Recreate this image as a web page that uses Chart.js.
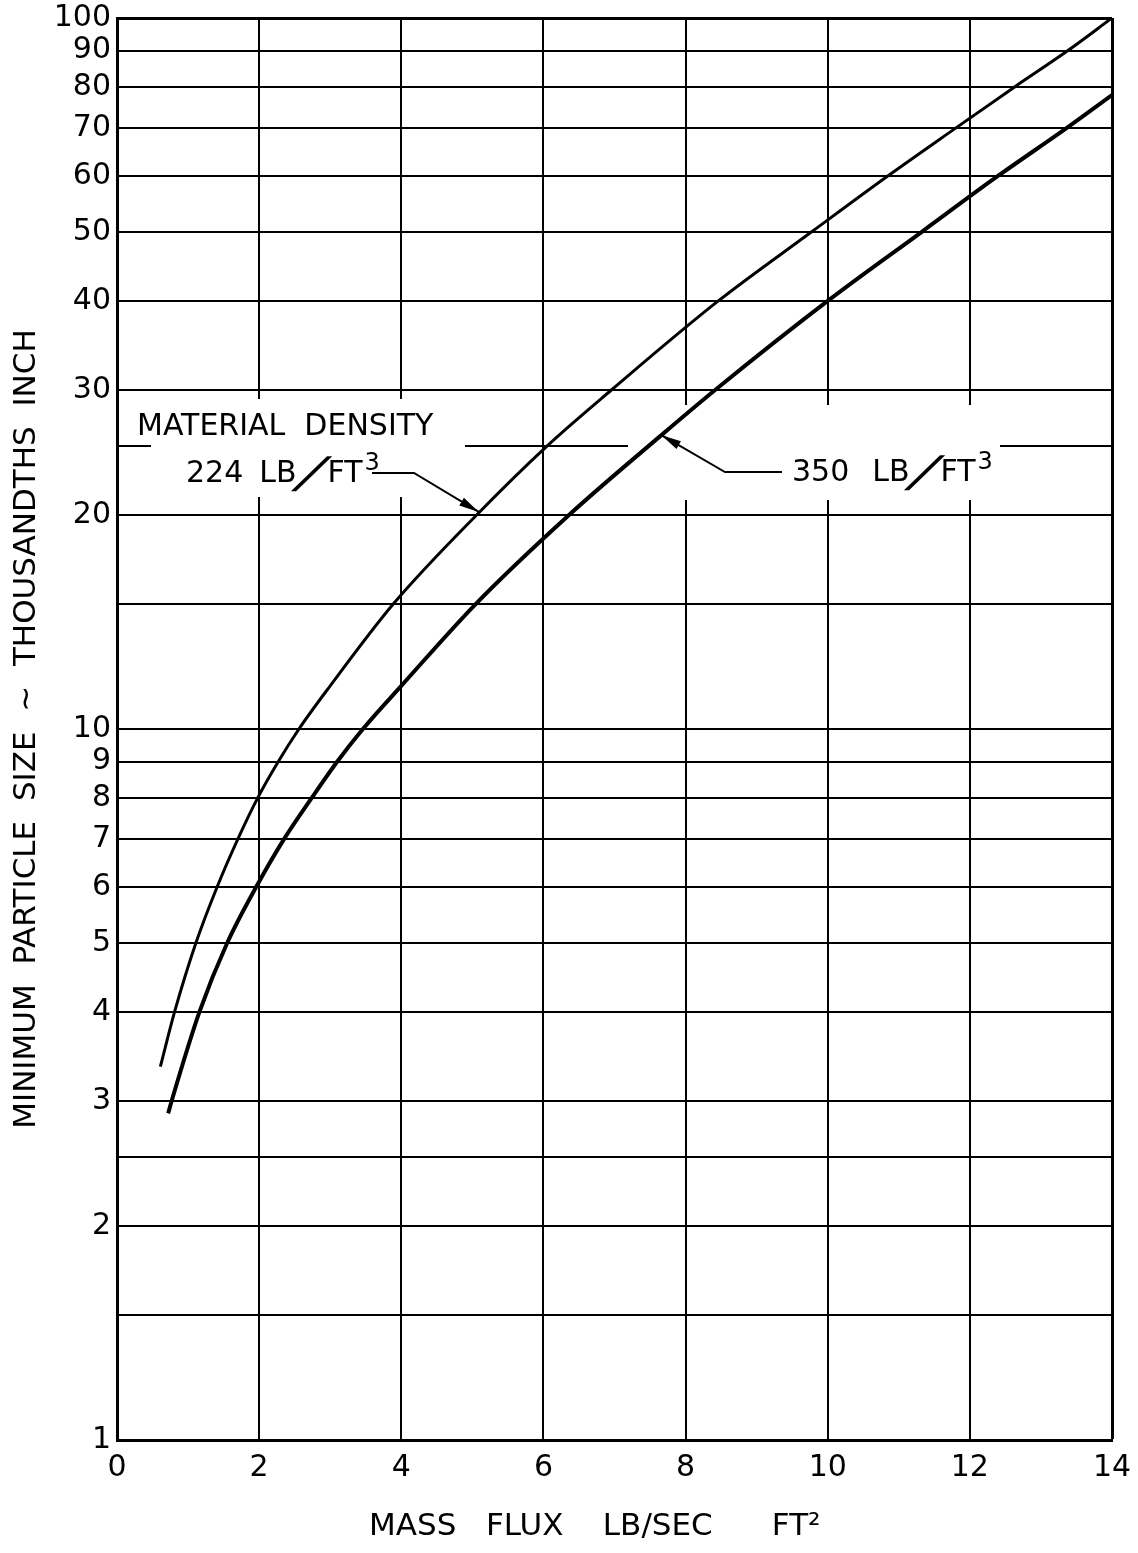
<!DOCTYPE html>
<html>
<head>
<meta charset="utf-8">
<title>Minimum particle size vs mass flux</title>
<script src="https://cdn.jsdelivr.net/npm/chart.js@4.4.0/dist/chart.umd.min.js"></script>
<style>
    html, body { margin: 0; padding: 0; background: #fff; }
    .chart-box { width: 1138px; height: 1553px; position: relative; }
</style>
</head>
<body>
<div class="chart-box"><canvas id="particleChart"></canvas></div>
<script>
// ===== Data =====
// 224 lb/ft3 curve
const density224X = [0.61, 0.81, 1.11, 1.41, 1.70, 1.98, 2.27, 2.56, 3.0, 3.89, 5.06, 6.05, 6.96, 8.46, 9.77, 10.85, 11.80, 12.63, 13.38, 14.0];
const density224Y = [3.35, 4, 5, 6, 7, 8, 9, 10, 11.5, 15, 20, 25, 30, 40, 50, 60, 70, 80, 90, 100];

// 350 lb/ft3 curve
const density350X = [0.72, 0.77, 1.16, 1.55, 1.96, 2.35, 2.74, 3.10, 3.46, 4.0, 5.05, 6.36, 7.66, 8.42, 10.0, 11.32, 12.40, 13.36, 14.0];
const density350Y = [2.88, 3, 4, 5, 6, 7, 8, 9, 10, 11.5, 15, 20, 25.9, 30, 40, 50, 60, 70, 77.9];

// axis ticks
const xTicks = [0, 2, 4, 6, 8, 10, 12, 14];
const yGridValues = [1, 1.5, 2, 2.5, 3, 4, 5, 6, 7, 8, 9, 10, 15, 20, 25, 30, 40, 50, 60, 70, 80, 90, 100];
const yLabelValues = [1, 2, 3, 4, 5, 6, 7, 8, 9, 10, 20, 30, 40, 50, 60, 70, 80, 90, 100];

// where the leader arrows touch the curves
const arrowX = [5.09, 7.66];
const arrowY = [20.2, 25.9];

const FONT = '"DejaVu Sans", "Liberation Sans", sans-serif';

function toPoints(xs, ys) {
    return xs.map((x, i) => ({ x: x, y: ys[i] }));
}

// ===== Annotation plugin (labels + leader arrows) =====
function drawArrow(ctx, fromX, fromY, tipX, tipY) {
    const ang = Math.atan2(tipY - fromY, tipX - fromX);
    const len = 20, half = 4.5;
    ctx.beginPath();
    ctx.moveTo(tipX, tipY);
    ctx.lineTo(tipX - len * Math.cos(ang) + half * Math.sin(ang), tipY - len * Math.sin(ang) - half * Math.cos(ang));
    ctx.lineTo(tipX - len * Math.cos(ang) - half * Math.sin(ang), tipY - len * Math.sin(ang) + half * Math.cos(ang));
    ctx.closePath();
    ctx.fill();
}

// "224 LB/FT3" in the lettering-guide style: long thin slash, raised 3
function drawDensityLabel(ctx, num, x, base, gap) {
    ctx.font = '30px ' + FONT;
    let cx = x;
    ctx.fillText(num, cx, base);
    cx += ctx.measureText(num).width + gap;
    ctx.fillText('LB', cx, base);
    cx += ctx.measureText('LB').width - 3;
    ctx.save();
    ctx.translate(cx, base + 2);
    ctx.scale(2.0, 1.0);
    ctx.fillText('╱', 0, 0);
    ctx.restore();
    cx += 34;
    ctx.fillText('FT', cx, base);
    cx += ctx.measureText('FT').width + 2;
    ctx.font = '24px ' + FONT;
    ctx.fillText('3', cx, base - 12);
    ctx.font = '30px ' + FONT;
}

const annotationPlugin = {
    id: 'densityLabels',
    beforeDatasetsDraw(chart) {
        // blank the grid behind the lettering, as on the original sheet
        const ctx = chart.ctx;
        ctx.save();
        ctx.fillStyle = '#fff';
        ctx.fillRect(151, 399, 314, 98);
        ctx.fillRect(628, 405, 372, 95);
        ctx.restore();
    },
    afterDatasetsDraw(chart) {
        const ctx = chart.ctx;
        const xs = chart.scales.x, ys = chart.scales.y;
        ctx.save();
        ctx.fillStyle = '#000';
        ctx.strokeStyle = '#000';
        ctx.font = '30px ' + FONT;
        ctx.textBaseline = 'alphabetic';
        ctx.textAlign = 'left';
        ctx.fillText('MATERIAL  DENSITY', 137, 435);
        drawDensityLabel(ctx, '224', 186, 482, 16);
        drawDensityLabel(ctx, '350', 792, 481, 23);

        // leader for 224
        const t1x = xs.getPixelForValue(arrowX[0]), t1y = ys.getPixelForValue(arrowY[0]);
        ctx.lineWidth = 2;
        ctx.beginPath();
        ctx.moveTo(372, 473);
        ctx.lineTo(414, 473);
        ctx.lineTo(t1x, t1y);
        ctx.stroke();
        drawArrow(ctx, 414, 473, t1x, t1y);

        // leader for 350
        const t2x = xs.getPixelForValue(arrowX[1]), t2y = ys.getPixelForValue(arrowY[1]);
        ctx.beginPath();
        ctx.moveTo(782, 472);
        ctx.lineTo(725, 472);
        ctx.lineTo(t2x, t2y);
        ctx.stroke();
        drawArrow(ctx, 725, 472, t2x, t2y);
        ctx.restore();
    }
};

// ===== Chart =====
const ctx1 = document.getElementById('particleChart').getContext('2d');
const particleChart = new Chart(ctx1, {
    type: 'line',
    data: {
        datasets: [
            {
                label: '224 LB/FT³',
                data: toPoints(density224X, density224Y),
                borderColor: '#000',
                borderWidth: 3,
                pointRadius: 0,
                fill: false,
                cubicInterpolationMode: 'monotone'
            },
            {
                label: '350 LB/FT³',
                data: toPoints(density350X, density350Y),
                borderColor: '#000',
                borderWidth: 4,
                pointRadius: 0,
                fill: false,
                cubicInterpolationMode: 'monotone'
            }
        ]
    },
    options: {
        responsive: true,
        maintainAspectRatio: false,
        animation: false,
        layout: { padding: { left: 0, top: 18, right: 26, bottom: 0 } },
        plugins: {
            legend: { display: false },
            tooltip: { enabled: false }
        },
        scales: {
            x: {
                type: 'linear',
                min: 0,
                max: 14,
                afterBuildTicks: (scale) => { scale.ticks = xTicks.map(v => ({ value: v })); },
                afterFit: (scale) => {
                    scale.height = 113;
                    scale.paddingLeft = 0;
                    scale.paddingRight = 0;
                },
                ticks: {
                    color: '#000',
                    font: { family: FONT, size: 30 },
                    padding: 10,
                    maxRotation: 0,
                    autoSkip: false
                },
                grid: {
                    color: '#000',
                    lineWidth: (c) => (c.tick && c.tick.value === 14) ? 3 : 2,
                    drawTicks: false
                },
                border: { color: '#000', width: 3 },
                title: {
                    display: true,
                    text: 'MASS   FLUX    LB/SEC      FT²    ',
                    color: '#000',
                    font: { family: FONT, size: 31 },
                    padding: { top: 0, bottom: 7 }
                }
            },
            y: {
                type: 'logarithmic',
                min: 1,
                max: 100,
                afterBuildTicks: (scale) => { scale.ticks = yGridValues.map(v => ({ value: v })); },
                afterFit: (scale) => {
                    scale.width = 117;
                    scale.paddingTop = 0;
                    scale.paddingBottom = 0;
                },
                ticks: {
                    color: '#000',
                    font: { family: FONT, size: 30 },
                    padding: 6,
                    autoSkip: false,
                    callback: (value) => yLabelValues.includes(value) ? String(value) : ''
                },
                grid: {
                    color: '#000',
                    lineWidth: (c) => (c.tick && c.tick.value === 100) ? 3 : 2,
                    drawTicks: false
                },
                border: { color: '#000', width: 3 },
                title: {
                    display: true,
                    text: 'MINIMUM  PARTICLE  SIZE  ~  THOUSANDTHS  INCH',
                    color: '#000',
                    font: { family: FONT, size: 31 },
                    padding: { top: 8, bottom: 0 }
                }
            }
        }
    },
    plugins: [annotationPlugin]
});
</script>
</body>
</html>
